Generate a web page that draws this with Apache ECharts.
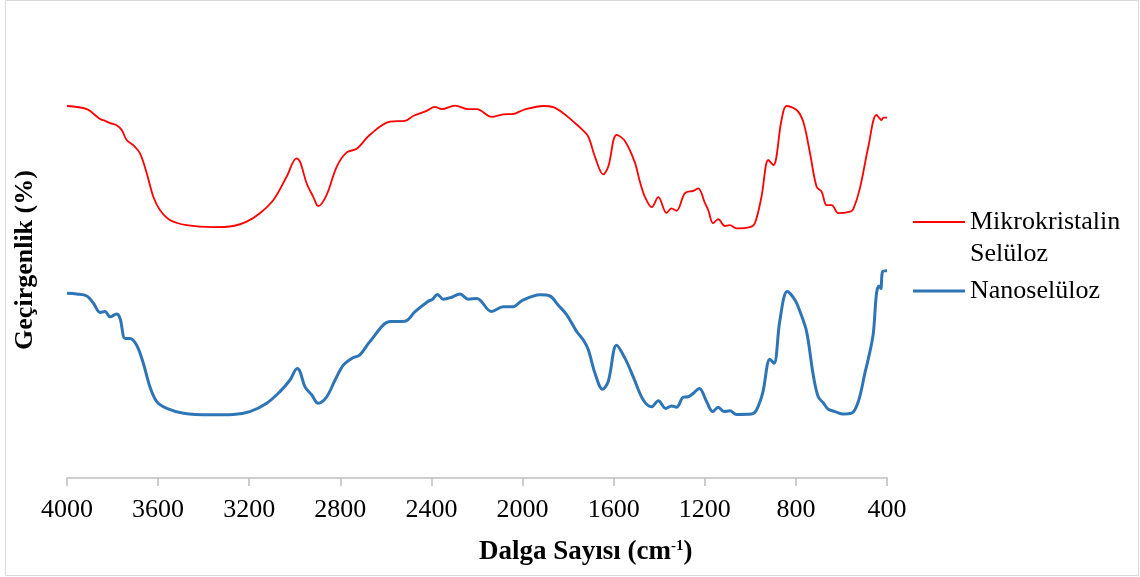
<!DOCTYPE html>
<html>
<head>
<meta charset="utf-8">
<title>FTIR</title>
<script src="https://cdn.jsdelivr.net/npm/echarts@6/dist/echarts.min.js"></script>
<style>
  html, body { margin: 0; padding: 0; background: #fff; }
  #chart { width: 1140px; height: 577px; }
</style>
</head>
<body>
<div id="chart"></div>
<script>
// wave numbers (cm-1) and transmittance readings
const mcsX = [4000, 3913, 3855, 3833, 3811, 3782, 3760, 3738, 3709, 3680, 3650, 3621, 3592, 3548, 3475, 3358, 3270, 3211, 3153, 3094, 3036, 2992, 2977, 2948, 2919, 2897, 2860, 2816, 2772, 2728, 2670, 2582, 2516, 2480, 2421, 2385, 2355, 2297, 2238, 2201, 2136, 2085, 2041, 1997, 1909, 1865, 1821, 1777, 1740, 1711, 1682, 1646, 1624, 1587, 1550, 1507, 1485, 1463, 1433, 1404, 1368, 1346, 1324, 1287, 1250, 1229, 1199, 1185, 1163, 1141, 1112, 1090, 1061, 1002, 980, 951, 921, 899, 863, 841, 797, 768, 738, 709, 687, 665, 643, 613, 562, 548, 519, 482, 446, 424, 416, 400]
const mcsY = [93, 92.2, 89.75, 89.3, 88.7, 88.2, 87, 84.5, 83.2, 81.2, 76.2, 70.3, 67, 64.5, 63.2, 62.7, 63, 64.1, 66.2, 69.5, 75.3, 79.9, 79.1, 73.7, 70.3, 68, 70.8, 77.8, 81.4, 82.3, 85.8, 89.1, 89.3, 90.5, 91.8, 92.8, 92.2, 93.1, 92.2, 92.2, 90.3, 90.9, 91, 92, 93, 92.7, 91.2, 89.1, 87.2, 85.3, 80.3, 75.9, 77.8, 85.8, 84.2, 78.9, 74.1, 70.3, 67.7, 70.2, 66.3, 67.4, 66.8, 71.2, 71.8, 72.4, 68.7, 67, 63.7, 64.7, 63, 63.2, 62.4, 62.7, 63.7, 70.3, 79.5, 78.2, 89.5, 93, 92, 89.1, 81.2, 72.8, 71.6, 68.2, 68.2, 66.2, 66.6, 67.2, 72.4, 82.8, 90.8, 89.5, 90.1, 90.1]

const nanoX = [4000, 3957, 3913, 3884, 3855, 3833, 3811, 3782, 3767, 3745, 3723, 3694, 3665, 3636, 3606, 3562, 3489, 3372, 3270, 3197, 3123, 3065, 3021, 2989, 2977, 2955, 2926, 2897, 2860, 2823, 2787, 2750, 2714, 2670, 2582, 2516, 2472, 2414, 2395, 2374, 2348, 2311, 2275, 2238, 2201, 2136, 2085, 2041, 2004, 1923, 1880, 1843, 1806, 1762, 1733, 1711, 1682, 1649, 1624, 1587, 1550, 1514, 1470, 1433, 1404, 1371, 1346, 1324, 1294, 1272, 1250, 1224, 1192, 1165, 1141, 1116, 1090, 1061, 995, 973, 946, 914, 896, 870, 838, 804, 782, 753, 724, 702, 680, 658, 628, 592, 555, 526, 497, 475, 460, 446, 435, 427, 419, 400]
const nanoY = [46.2, 46, 45.5, 43.7, 41.4, 41.6, 40.3, 41, 39.9, 34.9, 34.9, 33.2, 28.7, 22.8, 19.1, 17.4, 16.2, 15.8, 15.9, 16.6, 18.7, 21.6, 24.5, 27.4, 26.6, 22.8, 20.8, 18.7, 20.3, 24.5, 28.2, 29.9, 30.8, 34.1, 39.1, 39.2, 41.6, 44.2, 44.7, 45.9, 44.7, 45.2, 46, 44.7, 44.9, 41.6, 42.8, 42.8, 44.3, 45.8, 45.5, 43.2, 40.8, 36.6, 34.5, 32, 26.2, 22.2, 24.1, 33.2, 29.9, 25.3, 19.5, 17.8, 19.3, 17.4, 18, 17.7, 20.2, 20.3, 21.2, 22.4, 19.1, 16.6, 17.7, 16.6, 16.8, 15.9, 16, 17, 21.2, 29.7, 28.7, 39.5, 46.6, 44.5, 41.6, 36.6, 25.8, 20.3, 18.8, 17.2, 16.6, 16, 16.2, 19.1, 26.2, 31.6, 36.2, 46.2, 48, 47.4, 51.6, 51.8]

const seriesNames = ['Mikrokristalin Selüloz', 'Nanoselüloz']

const font = 'Liberation Serif, Times New Roman, serif'
const pair = (xs, ys) => xs.map((x, i) => [x, ys[i]])

const chart = echarts.init(document.getElementById('chart'))
const option = {
  animation: false,
  grid: { left: 67, right: 253, top: 78, bottom: 99 },
  legend: [
    {
      data: [seriesNames[0]],
      left: 913,
      top: 174,
      padding: 0,
      icon: 'rect',
      itemWidth: 52,
      itemHeight: 1.8,
      // blank first line keeps the icon level with "Mikrokristalin"
      formatter: () => ' \nMikrokristalin\nSelüloz',
      textStyle: { fontFamily: font, fontSize: 26, color: '#000', lineHeight: 32 }
    },
    {
      data: [seriesNames[1]],
      left: 913,
      top: 275,
      padding: 0,
      icon: 'rect',
      itemWidth: 52,
      itemHeight: 3,
      textStyle: { fontFamily: font, fontSize: 26, color: '#000', lineHeight: 32 }
    }
  ],
  title: {
    text: '{b|Dalga Sayısı (cm}{s|-1}{b|)}',
    left: 479,
    top: 539,
    padding: 0,
    textStyle: {
      rich: {
        b: { fontFamily: font, fontSize: 27, fontWeight: 'bold', color: '#000' },
        s: { fontFamily: font, fontSize: 15, fontWeight: 'bold', color: '#000', verticalAlign: 'top', padding: [0, 0, 12, 0] }
      }
    }
  },
  graphic: [
    {
      type: 'rect',
      shape: { x: 5.5, y: 0.5, width: 1133, height: 575 },
      style: { fill: 'none', stroke: '#d9d9d9', lineWidth: 1 },
      silent: true
    },
    {
      type: 'text',
      x: 25,
      y: 260,
      rotation: Math.PI / 2,
      style: {
        text: 'Geçirgenlik (%)',
        font: 'bold 26px ' + font,
        fill: '#000',
        align: 'center',
        verticalAlign: 'middle'
      }
    }
  ],
  xAxis: {
    type: 'value',
    inverse: true,
    min: 400,
    max: 4000,
    interval: 400,
    axisLine: { lineStyle: { color: '#bfbfbf', width: 1.5 } },
    axisTick: { show: true, length: 8, lineStyle: { color: '#bfbfbf', width: 1.5 } },
    axisLabel: {
      fontFamily: font,
      fontSize: 26,
      color: '#000',
      margin: 19,
      formatter: (v) => String(v)
    },
    splitLine: { show: false }
  },
  yAxis: {
    type: 'value',
    min: 0,
    max: 100,
    show: false
  },
  series: [
    {
      name: seriesNames[0],
      type: 'line',
      data: pair(mcsX, mcsY),
      smooth: 0.35,
      symbol: 'none',
      lineStyle: { color: '#ff0000', width: 1.8 },
      itemStyle: { color: '#ff0000' }
    },
    {
      name: seriesNames[1],
      type: 'line',
      data: pair(nanoX, nanoY),
      smooth: 0.35,
      symbol: 'none',
      lineStyle: { color: '#2e75b6', width: 3 },
      itemStyle: { color: '#2e75b6' }
    }
  ]
}
chart.setOption(option)
</script>
</body>
</html>
